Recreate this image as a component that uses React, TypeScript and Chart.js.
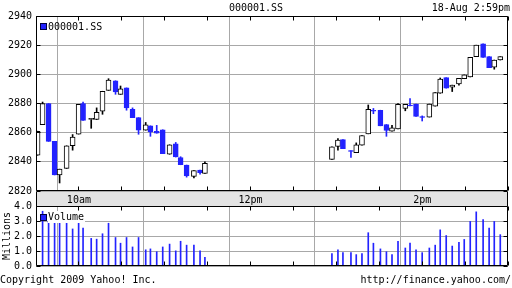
import React, { useEffect, useRef } from "react";
import { Chart, registerables } from "chart.js";
Chart.register(...registerables);

const FONT = '"DejaVu Sans Mono", monospace';
const BLUE = "#2222ff";
const GRID = "#a8a8a8";
const BAND = "#e3e3e3";

const symbol = "000001.SS";
const stamp = "18-Aug 2:59pm";
const copyright = "Copyright 2009 Yahoo! Inc.";
const source = "http://finance.yahoo.com/";

// minutes after 9:30
const times = [
  1.1, 4.6, 8.8, 13.0, 16.5, 21.4, 25.6, 29.8, 32.9, 38.6, 42.4, 46.5, 50.7, 55.6, 59.1,
  63.3, 67.5, 71.7, 76.7, 80.0, 84.4, 88.6, 93.4, 97.7, 101.1, 105.3, 110.4, 114.7, 118.1,
  206.9, 211.1, 214.6, 220.2, 223.9, 227.9, 232.3, 235.9, 240.8, 245.0, 248.9, 253.1, 258.2,
  261.5, 265.7, 270.0, 275.0, 279.1, 282.6, 286.8, 291.0, 295.7, 299.4, 303.6, 307.8, 312.6,
  316.8, 320.4, 324.6,
];
const opens = [
  2844.5, 2865.5, 2880, 2854, 2831, 2835.5, 2851, 2859, 2880, 2869, 2869, 2874.7, 2889, 2895.6, 2886.3,
  2890.7, 2876, 2870.3, 2861.7, 2864.7, 2861, 2862, 2845.2, 2852.4, 2843, 2837.8, 2830, 2834.3, 2832,
  2841.7, 2850.5, 2855.2, 2847.8, 2846.3, 2851.5, 2859.2, 2875.3, 2875.4, 2865.6, 2861, 2862.6, 2876.6,
  2879, 2879.6, 2871, 2870.7, 2878.2, 2887, 2897.7, 2891.2, 2893.5, 2897, 2898.2, 2912.1, 2921,
  2912.1, 2904.9, 2909.8,
];
const highs = [
  2861, 2881, 2880, 2854, 2835, 2851, 2858.7, 2879.4, 2881, 2869.8, 2877, 2888.4, 2897, 2895.6, 2892,
  2890.7, 2877, 2870.3, 2867, 2864.7, 2865, 2862, 2851.7, 2853.3, 2843.5, 2837.8, 2834, 2834.3, 2840,
  2850.3, 2856, 2855.2, 2847.8, 2853, 2858, 2879, 2876.6, 2875.4, 2865.6, 2865, 2880, 2879.4,
  2883.3, 2879.6, 2871.5, 2879.6, 2887.5, 2897.5, 2897.7, 2892.6, 2897.2, 2899.6, 2911.6, 2920, 2921,
  2912.1, 2909.8, 2912.1,
];
const lows = [
  2844.5, 2865.5, 2854, 2831, 2825.5, 2835.5, 2848, 2859, 2868.4, 2863, 2869, 2872.6, 2889, 2886.3, 2886.3,
  2875.4, 2870.3, 2858.9, 2861.7, 2857.5, 2859.6, 2845.6, 2845.2, 2843.3, 2838, 2829.5, 2829, 2831.5, 2832,
  2841.7, 2848, 2849.1, 2843, 2846.3, 2851.5, 2859.2, 2873, 2864.7, 2857.5, 2861, 2862.6, 2875,
  2878.4, 2871.2, 2868, 2870.7, 2878.2, 2887, 2890.5, 2888.2, 2892.5, 2897, 2898.2, 2912.1, 2911.6,
  2904.5, 2903.5, 2909.8,
];
const closes = [
  2861, 2880, 2854, 2831, 2835, 2851, 2857, 2879.4, 2868.4, 2869.8, 2874, 2888.4, 2896, 2888, 2890,
  2877, 2870.3, 2861.7, 2865.4, 2860.5, 2859.6, 2845.6, 2851.7, 2843.3, 2838, 2830.3, 2834, 2832.6, 2839,
  2850.3, 2855, 2849.1, 2847.2, 2851.7, 2858, 2876, 2874.7, 2864.7, 2861.5, 2863.3, 2879.4, 2879.4,
  2878.4, 2871.2, 2870.4, 2879.6, 2887.5, 2896.8, 2890.5, 2892.6, 2897.2, 2899.6, 2911.6, 2920, 2911.6,
  2904.5, 2909.8, 2912.1,
];
// millions of shares
const volumes = [
  null, 3.65, 3.0, 3.0, 3.0, 2.91, 2.47, 3.0, 2.53, 1.84, 1.79, 2.15, 2.85, 1.9, 1.52,
  1.9, 1.27, 1.9, 1.08, 1.14, 0.95, 1.27, 1.46, 1.01, 1.65, 1.39, 1.39, 1.01, 0.57,
  0.82, 1.08, 0.89, 0.89, 0.76, 0.82, 2.22, 1.52, 1.14, 0.95, 0.76, 1.65, 1.2,
  1.52, 1.08, 0.89, 1.2, 1.39, 2.41, 2.03, 1.33, 1.58, 1.77, 2.97, 3.61, 3.1,
  2.53, 2.97, 2.09,
];

const timeTicks = [0, 30, 60, 90, 120, 150, 180, 210, 240, 270, 300, 330];
const timeTickLabels = ["", "10am", "", "", "", "12pm", "", "", "", "2pm", "", ""];
const hourTicks = [30, 90, 150, 210, 270];
const priceTicks = [2820, 2840, 2860, 2880, 2900, 2920, 2940];
const volumeTicks = [0, 1, 2, 3, 4];

const align = (p: number) => Math.round(p - 0.5) + 0.5;

function framePlugin(withBand: boolean) {
  return {
    id: "frame",
    beforeDraw(chart: any) {
      if (!withBand) return;
      const { ctx, chartArea: a } = chart;
      ctx.save();
      ctx.fillStyle = BAND;
      ctx.fillRect(a.left, a.bottom, a.right - a.left, 16);
      ctx.strokeStyle = "#000";
      ctx.lineWidth = 1;
      ctx.beginPath();
      ctx.moveTo(a.left + 0.5, a.bottom);
      ctx.lineTo(a.left + 0.5, a.bottom + 16);
      ctx.moveTo(a.right - 0.5, a.bottom);
      ctx.lineTo(a.right - 0.5, a.bottom + 16);
      ctx.moveTo(a.left, a.bottom + 15.5);
      ctx.lineTo(a.right, a.bottom + 15.5);
      ctx.stroke();
      ctx.restore();
    },
    afterDatasetsDraw(chart: any) {
      const { ctx, chartArea: a, scales } = chart;
      const L = a.left + 0.5;
      const R = a.right - 0.5;
      const T = a.top + 0.5;
      const B = a.bottom - 0.5;
      ctx.save();
      ctx.strokeStyle = "#000";
      ctx.lineWidth = 1;
      ctx.beginPath();
      ctx.rect(L, T, R - L, B - T);
      scales.y.ticks.forEach((t: any) => {
        const py = align(scales.y.getPixelForValue(t.value));
        ctx.moveTo(L, py);
        ctx.lineTo(L + 4, py);
        ctx.moveTo(R, py);
        ctx.lineTo(R - 4, py);
      });
      timeTicks.forEach((v) => {
        const px = align(scales.x.getPixelForValue(v));
        ctx.moveTo(px, T);
        ctx.lineTo(px, T + 4);
        ctx.moveTo(px, B);
        ctx.lineTo(px, B - 4);
      });
      ctx.stroke();
      ctx.restore();
    },
  };
}

const xScale = (showLabels: boolean, height: number) => ({
  type: "linear",
  min: 0,
  max: 330,
  offset: false,
  afterBuildTicks: (s: any) => {
    s.ticks = timeTicks.map((v) => ({ value: v }));
  },
  afterFit: (s: any) => {
    s.height = height;
  },
  ticks: {
    display: showLabels,
    autoSkip: false,
    maxRotation: 0,
    padding: 3,
    color: "#000",
    font: { family: FONT, size: 10 },
    callback: (v: any) => timeTickLabels[timeTicks.indexOf(Number(v))] ?? "",
  },
  grid: {
    drawTicks: false,
    color: (c: any) => (c.tick && hourTicks.includes(c.tick.value) ? GRID : "rgba(0,0,0,0)"),
  },
  border: { display: false },
});

export default function App() {
  const priceRef = useRef<HTMLCanvasElement>(null);
  const volRef = useRef<HTMLCanvasElement>(null);

  useEffect(() => {
    const up = times.map((_, i) => closes[i] >= opens[i]);
    const price = new Chart(priceRef.current as HTMLCanvasElement, {
      type: "bar",
      data: {
        datasets: [
          {
            label: "body",
            data: times.map((t, i) => ({ x: t, y: [opens[i], closes[i]] })) as any,
            backgroundColor: up.map((u) => (u ? "#ffffff" : BLUE)),
            borderColor: up.map((u) => (u ? "#000000" : BLUE)),
            borderWidth: 1,
            borderSkipped: false,
            barThickness: 5,
            grouped: false,
            order: 0,
          },
          {
            label: "wick",
            data: times.map((t, i) => ({ x: t, y: [lows[i], highs[i]] })) as any,
            backgroundColor: up.map((u) => (u ? "#000000" : BLUE)),
            borderWidth: 0,
            barThickness: 1,
            grouped: false,
            order: 1,
          },
        ],
      },
      options: {
        animation: false,
        responsive: false,
        maintainAspectRatio: false,
        layout: { padding: { top: 16, right: 4, left: 0, bottom: 0 } },
        plugins: { legend: { display: false }, tooltip: { enabled: false } },
        scales: {
          x: xScale(true, 16) as any,
          y: {
            type: "linear",
            min: 2820,
            max: 2940,
            afterBuildTicks: (s: any) => {
              s.ticks = priceTicks.map((v) => ({ value: v }));
            },
            afterFit: (s: any) => {
              s.width = 36;
            },
            ticks: {
              padding: 4,
              color: "#000",
              font: { family: FONT, size: 10 },
              callback: (v: any) => String(v),
            },
            grid: { drawTicks: false, color: GRID },
            border: { display: false },
          },
        },
      },
      plugins: [framePlugin(true)],
    });

    const vol = new Chart(volRef.current as HTMLCanvasElement, {
      type: "bar",
      data: {
        datasets: [
          {
            label: "Volume",
            data: times.map((t, i) => ({ x: t, y: volumes[i] })) as any,
            backgroundColor: BLUE,
            borderWidth: 0,
            barThickness: 1,
            grouped: false,
          },
        ],
      },
      options: {
        animation: false,
        responsive: false,
        maintainAspectRatio: false,
        layout: { padding: { top: 10, right: 4, left: 0, bottom: 5 } },
        plugins: { legend: { display: false }, tooltip: { enabled: false } },
        scales: {
          x: xScale(false, 0) as any,
          y: {
            type: "linear",
            min: 0,
            max: 4,
            afterBuildTicks: (s: any) => {
              s.ticks = volumeTicks.map((v) => ({ value: v }));
            },
            afterFit: (s: any) => {
              s.width = 36;
            },
            title: {
              display: true,
              text: "Millions",
              color: "#000",
              font: { family: FONT, size: 10 },
              padding: { top: 1, bottom: 0 },
            },
            ticks: {
              padding: 4,
              color: "#000",
              font: { family: FONT, size: 10 },
              callback: (v: any) => Number(v).toFixed(1),
            },
            grid: { drawTicks: false, color: GRID },
            border: { display: false },
          },
        },
      },
      plugins: [framePlugin(false)],
    });

    return () => {
      price.destroy();
      vol.destroy();
    };
  }, []);

  const text: React.CSSProperties = {
    position: "absolute",
    fontFamily: FONT,
    fontSize: 10,
    lineHeight: "12px",
    color: "#000",
    whiteSpace: "pre",
  };
  const square: React.CSSProperties = {
    position: "absolute",
    width: 7,
    height: 7,
    boxSizing: "border-box",
    background: BLUE,
    border: "1px solid #000040",
  };

  return (
    <div
      style={{
        position: "absolute",
        left: 0,
        top: 0,
        width: 512,
        height: 288,
        background: "#fff",
        overflow: "hidden",
      }}
    >
      <canvas
        ref={priceRef}
        width={512}
        height={207}
        style={{ position: "absolute", left: 0, top: 0, width: 512, height: 207 }}
      />
      <canvas
        ref={volRef}
        width={512}
        height={80}
        style={{ position: "absolute", left: 0, top: 196, width: 512, height: 80 }}
      />
      <div style={{ ...text, top: 2, left: 0, width: 512, textAlign: "center" }}>{symbol}</div>
      <div style={{ ...text, top: 2, right: 2 }}>{stamp}</div>
      <div style={{ ...square, left: 40, top: 23 }} />
      <div style={{ ...text, left: 48, top: 21 }}>{symbol}</div>
      <div style={{ ...square, left: 40, top: 214 }} />
      <div style={{ ...text, left: 48, top: 211, background: "#fff", paddingRight: 1 }}>Volume</div>
      <div style={{ ...text, left: 0, top: 274 }}>{copyright}</div>
      <div style={{ ...text, right: 1, top: 274 }}>{source}</div>
    </div>
  );
}
